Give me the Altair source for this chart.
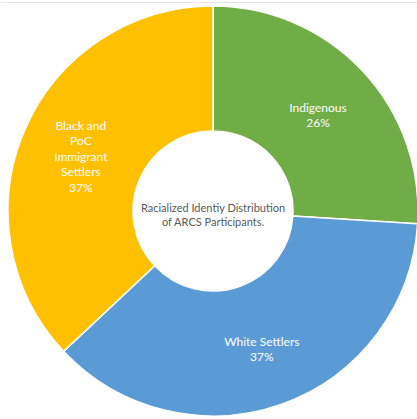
import altair as alt
import pandas as pd

categories = ["Indigenous", "White Settlers", "Black and PoC Immigrant Settlers"]
values = [26, 37, 37]
labels = ["Indigenous\n26%", "White Settlers\n37%", "Black and\nPoC\nImmigrant\nSettlers\n37%"]
colors = ["#70AD47", "#5B9BD5", "#FFC000"]
center_text = "Racialized Identiy Distribution\nof ARCS Participants."

df = pd.DataFrame({
    "category": categories,
    "value": values,
    "label": labels,
    "order": list(range(len(categories))),
})

cx, cy = 212, 211
line_h = 15.5

base = alt.Chart(df).encode(
    theta=alt.Theta("value:Q", stack=True),
    order=alt.Order("order:Q"),
    x=alt.value(cx),
    y=alt.value(cy),
)

arcs = base.mark_arc(outerRadius=205, innerRadius=80, stroke="white", strokeWidth=1.5).encode(
    color=alt.Color("category:N", scale=alt.Scale(domain=categories, range=colors), legend=None)
)

text_layers = []
for cat, lab in zip(categories, labels):
    n = lab.count("\n") + 1
    t = base.mark_text(radius=144, font="Lato", fontSize=12, color="white", lineBreak="\n",
                       lineHeight=line_h, align="center", baseline="middle",
                       dy=-(n - 1) * line_h / 2 + 3).encode(
        text="label:N",
        opacity=alt.condition(alt.datum.category == cat, alt.value(1), alt.value(0)),
    )
    text_layers.append(t)

center = alt.Chart(pd.DataFrame({"t": [center_text]})).mark_text(
    font="Lato", fontSize=11, color="#595959", lineBreak="\n", lineHeight=14,
    align="center", baseline="middle", dy=-2
).encode(x=alt.value(cx), y=alt.value(cy), text="t:N")

border = alt.Chart(pd.DataFrame({"a": [0]})).mark_rule(color="#e3e3e3", strokeWidth=1).encode(
    x=alt.value(0), x2=alt.value(417), y=alt.value(2.5)
)

chart = alt.layer(arcs, *text_layers, center, border).properties(
    width=417, height=419,
    autosize=alt.AutoSizeParams(type="fit", contains="padding"),
    padding=0,
).configure_view(stroke=None)

chart.save("out.html", embed_options={"renderer": "svg", "actions": False})
